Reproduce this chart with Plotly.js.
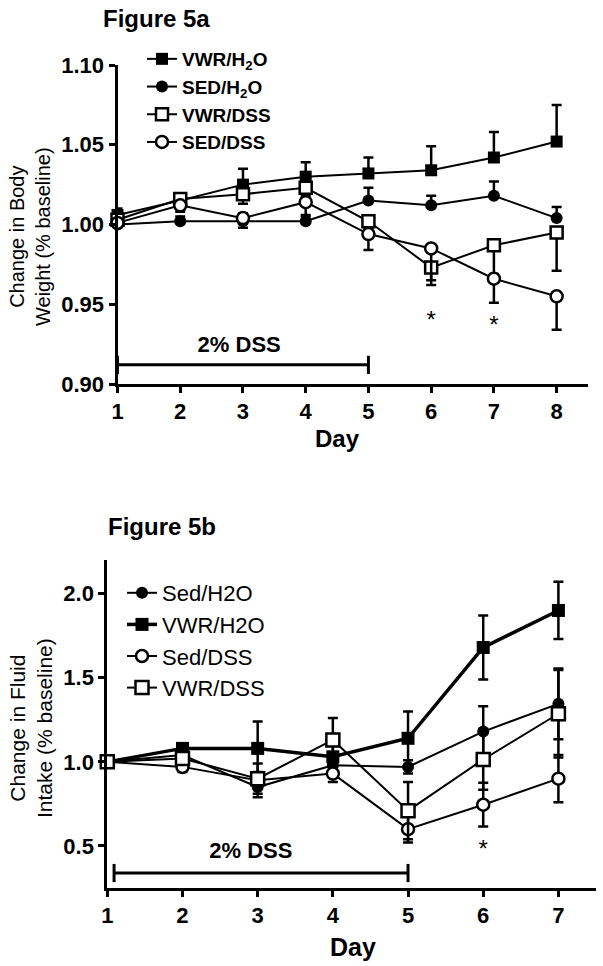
<!DOCTYPE html>
<html>
<head>
<meta charset="utf-8">
<script src="https://cdn.plot.ly/plotly-3.0.1.min.js"></script>
<style>html,body{margin:0;padding:0;background:#fff;}#chart{width:603px;height:966px;}</style>
</head>
<body>
<div id="chart"></div>
<script>
// ---------- Figure 5a : body weight ----------
const daysA = [1, 2, 3, 4, 5, 6, 7, 8];
const namesA = ['VWR/H<sub>2</sub>O', 'SED/H<sub>2</sub>O', 'VWR/DSS', 'SED/DSS'];
const vwrH2oA = [1.006, 1.015, 1.025, 1.030, 1.032, 1.034, 1.042, 1.052];
const vwrH2oErrA = [0.004, 0.004, 0.010, 0.009, 0.010, 0.015, 0.016, 0.023];
const sedH2oA = [1.000, 1.002, 1.002, 1.002, 1.015, 1.012, 1.018, 1.004];
const sedH2oErrA = [0.003, 0.003, 0.005, 0.003, 0.008, 0.006, 0.009, 0.007];
const vwrDssA = [1.003, 1.016, 1.019, 1.023, 1.002, 0.973, 0.987, 0.995];
const vwrDssErrA = [0.004, 0.004, 0.006, 0.005, 0.005, 0.011, 0.018, 0.024];
const sedDssA = [1.001, 1.012, 1.004, 1.014, 0.994, 0.985, 0.966, 0.955];
const sedDssErrA = [0.003, 0.004, 0.006, 0.008, 0.010, 0.020, 0.015, 0.021];
const yTicksA = [0.90, 0.95, 1.00, 1.05, 1.10];
const starDaysA = [6, 7];
const starLevelsA = [0.939, 0.936];
const dssPeriodA = [1, 5];
const dssLevelA = 0.912;
const dssLabelA = {x: 2.94, y: 0.9235, text: '2% DSS'};

// ---------- Figure 5b : fluid intake ----------
const daysB = [1, 2, 3, 4, 5, 6, 7];
const namesB = ['Sed/H2O', 'VWR/H2O', 'Sed/DSS', 'VWR/DSS'];
const sedH2oB = [1.00, 1.04, 0.85, 0.98, 0.97, 1.18, 1.345];
const sedH2oErrB = [0.00, 0.03, 0.06, 0.06, 0.04, 0.15, 0.21];
const vwrH2oB = [1.00, 1.08, 1.08, 1.03, 1.14, 1.68, 1.90];
const vwrH2oErrB = [0.00, 0.03, 0.16, 0.08, 0.16, 0.19, 0.17];
const sedDssB = [1.00, 0.97, 0.89, 0.93, 0.60, 0.745, 0.90];
const sedDssErrB = [0.00, 0.03, 0.05, 0.05, 0.08, 0.13, 0.14];
const vwrDssB = [1.00, 1.02, 0.90, 1.13, 0.71, 1.014, 1.286];
const vwrDssErrB = [0.00, 0.03, 0.09, 0.13, 0.17, 0.18, 0.26];
const yTicksB = [0.5, 1.0, 1.5, 2.0];
const starDaysB = [6];
const starLevelsB = [0.472];
const dssPeriodB = [1.09, 5];
const dssLevelB = 0.339;
const dssLabelB = {x: 2.91, y: 0.462, text: '2% DSS'};

const FONT = '"Liberation Sans", Arial, Helvetica, sans-serif';
const W = 603, H = 966;
const zeros = n => Array.from({length: n}, () => 0);

function mk(symbol, filled, size) {
  return {symbol: symbol, size: size, color: filled ? 'black' : 'white',
          line: {color: 'black', width: filled ? 0 : 2.5}};
}
function series(x, y, err, name, marker, lw, dir, xa, ya, leg) {
  const up = dir === 'down' ? zeros(x.length) : err;
  const dn = dir === 'up' ? zeros(x.length) : err;
  return {
    type: 'scatter', mode: 'lines+markers', x: x, y: y, name: name,
    xaxis: xa, yaxis: ya, legend: leg, cliponaxis: false,
    line: {color: 'black', width: lw}, marker: marker,
    error_y: {type: 'data', symmetric: false, array: up, arrayminus: dn,
              color: 'black', thickness: 2.5, width: 5}
  };
}
function bar(period, level, xa, ya) {
  return {type: 'scatter', mode: 'lines+markers', x: period, y: period.map(() => level),
          xaxis: xa, yaxis: ya, showlegend: false, cliponaxis: false, hoverinfo: 'skip',
          line: {color: 'black', width: 3},
          marker: {symbol: 'line-ns-open', size: 13, line: {color: 'black', width: 3}}};
}
function txt(x, y, t, size, weight, xa, ya) {
  return {type: 'scatter', mode: 'text', x: x, y: y, text: t, xaxis: xa, yaxis: ya,
          showlegend: false, cliponaxis: false, hoverinfo: 'skip',
          textfont: {family: FONT, size: size, weight: weight, color: 'black'}};
}

const traces = [
  series(daysA, vwrH2oA, vwrH2oErrA, namesA[0], mk('square', true, 12), 2, 'up', 'x', 'y', 'legend'),
  series(daysA, sedH2oA, sedH2oErrA, namesA[1], mk('circle', true, 12), 2, 'up', 'x', 'y', 'legend'),
  series(daysA, vwrDssA, vwrDssErrA, namesA[2], mk('square', false, 12), 2, 'down', 'x', 'y', 'legend'),
  series(daysA, sedDssA, sedDssErrA, namesA[3], mk('circle', false, 12), 2, 'down', 'x', 'y', 'legend'),
  bar(dssPeriodA, dssLevelA, 'x', 'y'),
  txt([dssLabelA.x], [dssLabelA.y], [dssLabelA.text], 22, 700, 'x', 'y'),
  txt(starDaysA, starLevelsA, starDaysA.map(() => '*'), 24, 400, 'x', 'y'),

  series(daysB, sedH2oB, sedH2oErrB, namesB[0], mk('circle', true, 12), 2, 'both', 'x2', 'y2', 'legend2'),
  series(daysB, vwrH2oB, vwrH2oErrB, namesB[1], mk('square', true, 13), 3.5, 'both', 'x2', 'y2', 'legend2'),
  series(daysB, sedDssB, sedDssErrB, namesB[2], mk('circle', false, 12), 2, 'both', 'x2', 'y2', 'legend2'),
  series(daysB, vwrDssB, vwrDssErrB, namesB[3], mk('square', false, 13), 2, 'both', 'x2', 'y2', 'legend2'),
  bar(dssPeriodB, dssLevelB, 'x2', 'y2'),
  txt([dssLabelB.x], [dssLabelB.y], [dssLabelB.text], 22, 700, 'x2', 'y2'),
  txt(starDaysB, starLevelsB, starDaysB.map(() => '*'), 24, 400, 'x2', 'y2')
];

function axis(extra) {
  return Object.assign({
    showline: true, linewidth: 3, linecolor: 'black', mirror: false,
    ticks: 'outside', ticklen: 6, tickwidth: 3, tickcolor: 'black',
    showgrid: false, zeroline: false, fixedrange: true,
    tickfont: {family: FONT, size: 22, weight: 700, color: 'black'}
  }, extra);
}
const px = v => v / W, py = v => 1 - v / H;

const layout = {
  width: W, height: H, margin: {l: 0, r: 0, t: 0, b: 0},
  paper_bgcolor: 'white', plot_bgcolor: 'white', showlegend: true,
  font: {family: FONT, color: 'black'},
  xaxis: axis({domain: [px(117.5), px(588)], range: [1, 8.5], anchor: 'y', tickvals: daysA}),
  yaxis: axis({domain: [py(384), py(65)], range: [0.9, 1.1], anchor: 'x', tickvals: yTicksA, tickformat: '.2f'}),
  xaxis2: axis({domain: [px(107.3), px(596)], range: [1, 7.5], anchor: 'y2', tickvals: daysB}),
  yaxis2: axis({domain: [py(888), py(560)], range: [0.25, 2.2], anchor: 'x2', tickvals: yTicksB, tickformat: '.1f'}),
  legend: {x: px(142), y: py(40), xanchor: 'left', yanchor: 'top', bgcolor: 'rgba(0,0,0,0)',
           font: {family: FONT, size: 19, weight: 700, color: 'black'}, tracegroupgap: 0},
  legend2: {x: px(122), y: py(572), xanchor: 'left', yanchor: 'top', bgcolor: 'rgba(0,0,0,0)',
            font: {family: FONT, size: 22, color: 'black'}, tracegroupgap: 0},
  annotations: [
    {text: 'Figure 5a', xref: 'paper', yref: 'paper', x: px(101), y: py(18), xanchor: 'left', yanchor: 'middle',
     showarrow: false, font: {family: FONT, size: 24, weight: 700}},
    {text: 'Figure 5b', xref: 'paper', yref: 'paper', x: px(106), y: py(526), xanchor: 'left', yanchor: 'middle',
     showarrow: false, font: {family: FONT, size: 24, weight: 700}},
    {text: 'Change in Body<br>Weight (% baseline)', xref: 'paper', yref: 'paper', x: px(30), y: py(237),
     xanchor: 'center', yanchor: 'middle', textangle: -90, showarrow: false, font: {family: FONT, size: 20}},
    {text: 'Change in Fluid<br>Intake (% baseline)', xref: 'paper', yref: 'paper', x: px(31), y: py(728),
     xanchor: 'center', yanchor: 'middle', textangle: -90, showarrow: false, font: {family: FONT, size: 21}},
    {text: 'Day', xref: 'paper', yref: 'paper', x: px(337), y: py(438), xanchor: 'center', yanchor: 'middle',
     showarrow: false, font: {family: FONT, size: 24, weight: 700}},
    {text: 'Day', xref: 'paper', yref: 'paper', x: px(353), y: py(947), xanchor: 'center', yanchor: 'middle',
     showarrow: false, font: {family: FONT, size: 25, weight: 700}}
  ]
};

Plotly.newPlot('chart', traces, layout, {displayModeBar: false, staticPlot: true});
</script>
</body>
</html>
